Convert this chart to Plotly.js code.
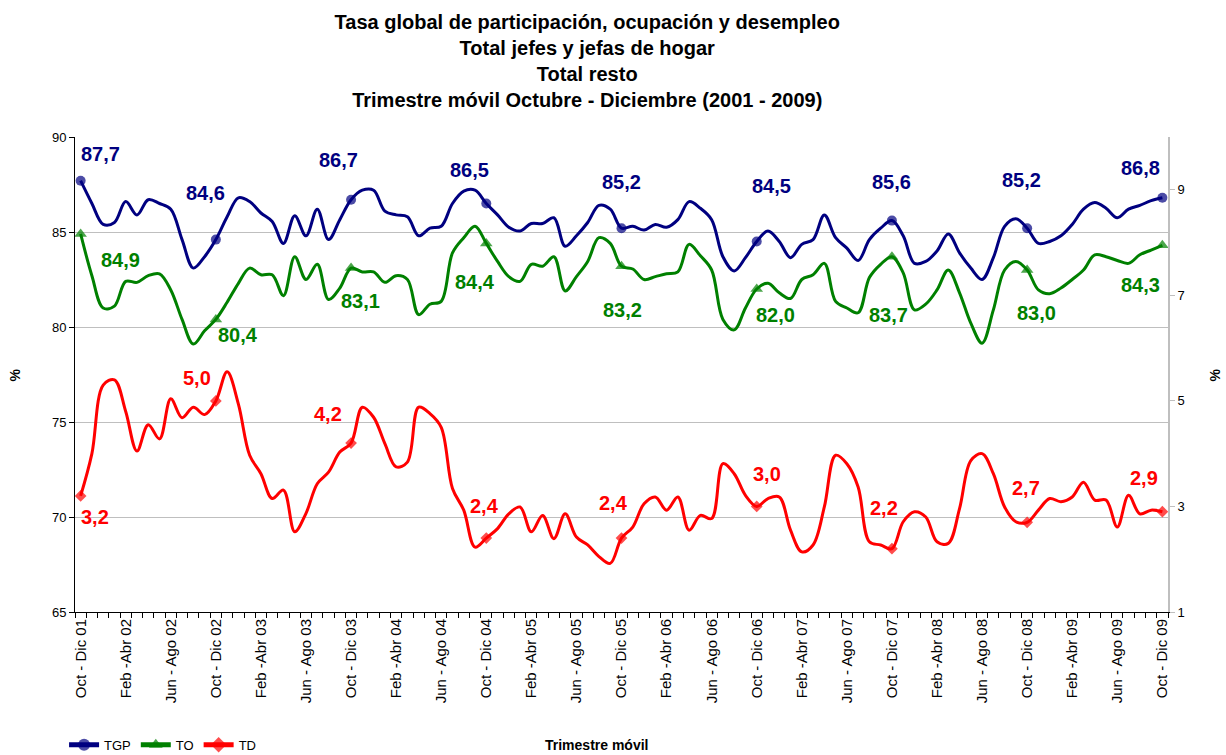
<!DOCTYPE html>
<html>
<head>
<meta charset="utf-8">
<script src="https://cdn.plot.ly/plotly-3.0.1.min.js"></script>
<style>
  html, body { margin: 0; padding: 0; background: #ffffff; }
  #chart { width: 1226px; height: 755px; }
</style>
</head>
<body>
<div id="chart"></div>
<script>
// ---------------- DATA ----------------
const categories = [
  "Oct - Dic 01","Nov - Ene 02","Dic - Feb 02","Ene - Mar 02","Feb -Abr 02","Mar - May 02","Abr - Jun 02","May - Jul 02","Jun - Ago 02","Jul - Sep 02","Ago - Oct 02","Sep - Nov 02",
  "Oct - Dic 02","Nov - Ene 03","Dic - Feb 03","Ene - Mar 03","Feb -Abr 03","Mar - May 03","Abr - Jun 03","May - Jul 03","Jun - Ago 03","Jul - Sep 03","Ago - Oct 03","Sep - Nov 03",
  "Oct - Dic 03","Nov - Ene 04","Dic - Feb 04","Ene - Mar 04","Feb -Abr 04","Mar - May 04","Abr - Jun 04","May - Jul 04","Jun - Ago 04","Jul - Sep 04","Ago - Oct 04","Sep - Nov 04",
  "Oct - Dic 04","Nov - Ene 05","Dic - Feb 05","Ene - Mar 05","Feb -Abr 05","Mar - May 05","Abr - Jun 05","May - Jul 05","Jun - Ago 05","Jul - Sep 05","Ago - Oct 05","Sep - Nov 05",
  "Oct - Dic 05","Nov - Ene 06","Dic - Feb 06","Ene - Mar 06","Feb -Abr 06","Mar - May 06","Abr - Jun 06","May - Jul 06","Jun - Ago 06","Jul - Sep 06","Ago - Oct 06","Sep - Nov 06",
  "Oct - Dic 06","Nov - Ene 07","Dic - Feb 07","Ene - Mar 07","Feb -Abr 07","Mar - May 07","Abr - Jun 07","May - Jul 07","Jun - Ago 07","Jul - Sep 07","Ago - Oct 07","Sep - Nov 07",
  "Oct - Dic 07","Nov - Ene 08","Dic - Feb 08","Ene - Mar 08","Feb -Abr 08","Mar - May 08","Abr - Jun 08","May - Jul 08","Jun - Ago 08","Jul - Sep 08","Ago - Oct 08","Sep - Nov 08",
  "Oct - Dic 08","Nov - Ene 09","Dic - Feb 09","Ene - Mar 09","Feb -Abr 09","Mar - May 09","Abr - Jun 09","May - Jul 09","Jun - Ago 09","Jul - Sep 09","Ago - Oct 09","Sep - Nov 09",
  "Oct - Dic 09"
];

const tickLabels = [
  "Oct - Dic 01","Feb -Abr 02","Jun - Ago 02","Oct - Dic 02","Feb -Abr 03","Jun - Ago 03","Oct - Dic 03",
  "Feb -Abr 04","Jun - Ago 04","Oct - Dic 04","Feb -Abr 05","Jun - Ago 05","Oct - Dic 05","Feb -Abr 06",
  "Jun - Ago 06","Oct - Dic 06","Feb -Abr 07","Jun - Ago 07","Oct - Dic 07","Feb -Abr 08","Jun - Ago 08",
  "Oct - Dic 08","Feb -Abr 09","Jun - Ago 09","Oct - Dic 09"
];

// Tasa global de participación (left axis)
const tgp = [
  87.7, 86.5, 85.4, 85.5, 86.6, 85.9, 86.7, 86.5, 86.2, 84.6, 83.1, 83.7,
  84.6, 85.8, 86.8, 86.6, 86.0, 85.55, 84.4, 85.85, 84.8, 86.2, 84.6, 85.65,
  86.7, 87.2, 87.2, 86.1, 85.9, 85.8, 84.8, 85.2, 85.3, 86.5, 87.15, 87.2,
  86.5, 85.9, 85.25, 85.05, 85.45, 85.45, 85.75, 84.25, 84.8, 85.5, 86.4, 86.2,
  85.2, 85.3, 85.1, 85.4, 85.25, 85.65, 86.6, 86.25, 85.65, 83.7, 82.95, 83.65,
  84.5, 85.05, 84.5, 83.65, 84.35, 84.6, 85.9, 84.7, 84.15, 83.5, 84.6, 85.2,
  85.6, 84.8, 83.35, 83.45, 84.0, 84.9, 83.9, 83.1, 82.5, 83.65, 85.3, 85.7,
  85.2, 84.4, 84.5, 84.8, 85.4, 86.2, 86.55, 86.25, 85.75, 86.2, 86.4, 86.65,
  86.8
];

// Tasa de ocupación (left axis)
const to = [
  84.9, 82.7, 81.0, 81.1, 82.4, 82.35, 82.7, 82.8, 81.95, 80.4, 79.1, 79.8,
  80.4, 81.3, 82.3, 83.1, 82.75, 82.75, 81.65, 83.7, 82.5, 83.3, 81.45, 82.05,
  83.1, 82.9, 82.9, 82.35, 82.7, 82.5, 80.65, 81.2, 81.35, 83.9, 84.7, 85.3,
  84.4, 83.45, 82.65, 82.4, 83.3, 83.2, 83.7, 81.9, 82.65, 83.45, 84.7, 84.4,
  83.2, 83.05, 82.5, 82.65, 82.8, 82.9, 84.35, 83.75, 83.0, 80.4, 79.85, 81.0,
  82.0, 82.3, 81.8, 81.5, 82.5, 82.75, 83.35, 81.35, 81.0, 80.75, 82.6, 83.3,
  83.7, 82.85, 80.9, 81.2, 81.95, 83.0, 81.8, 80.2, 79.15, 80.9, 83.0, 83.45,
  83.0, 81.95, 81.75, 82.05, 82.5, 83.0, 83.8, 83.7, 83.5, 83.35, 83.8, 84.05,
  84.3
];

// Tasa de desempleo (right axis)
const td = [
  3.2, 4.0, 5.3, 5.4, 4.8, 4.05, 4.55, 4.28, 5.04, 4.68, 4.88, 4.74,
  5.0, 5.55, 4.94, 3.97, 3.62, 3.15, 3.31, 2.52, 2.87, 3.43, 3.65, 4.03,
  4.2, 4.88, 4.69, 4.19, 3.75, 3.84, 4.88, 4.76, 4.5, 3.34, 2.93, 2.23,
  2.4, 2.58, 2.86, 2.99, 2.52, 2.83, 2.39, 2.86, 2.42, 2.27, 2.05, 1.92,
  2.4, 2.61, 3.05, 3.18, 2.93, 3.18, 2.55, 2.83, 2.77, 3.81, 3.62, 3.21,
  3.0, 3.15, 3.18, 2.55, 2.14, 2.27, 2.99, 3.97, 3.81, 3.37, 2.33, 2.27,
  2.2, 2.71, 2.9, 2.8, 2.33, 2.3, 2.96, 3.87, 4.0, 3.62, 2.99, 2.71,
  2.7, 2.93, 3.15, 3.09, 3.18, 3.46, 3.12, 3.12, 2.61, 3.21, 2.86, 2.93,
  2.9
];

// ---------------- STYLE ----------------
const FONT = "Liberation Sans, Arial, Helvetica, sans-serif";
const C_TGP = "#000080", C_TO = "#008000", C_TD = "#ff0000";

// label offsets (pixels: dx right, dy down) for the October data labels
const shiftTGP = [[20,-27],[-10,-47],[-13,-40],[-17,-34],[0,-46],[15,-56],[0,-39],[-6,-48],[-22,-30]];
const shiftTO  = [[40,26],[22,16],[9,33],[-11,39],[1,44],[19,26],[-3,58],[9,43],[-22,40]];
const shiftTD  = [[14,21],[-19,-23],[-23,-29],[-2,-32],[-8,-35],[10,-32],[-8,-41],[-1,-34],[-18,-34]];

const xIdx = categories.map((c, i) => i);
const octIdx = xIdx.filter(i => categories[i].startsWith("Oct"));
const isOct = i => categories[i].startsWith("Oct");

function trace(name, y, color, symbol, size, axis) {
  return {
    type: "scatter",
    mode: "lines+markers",
    name: name,
    x: xIdx,
    y: y,
    yaxis: axis,
    customdata: categories,
    hovertemplate: "%{customdata}: %{y}<extra>" + name + "</extra>",
    line: { color: color, width: 3, shape: "spline", smoothing: 1 },
    marker: { color: color, symbol: symbol, size: xIdx.map(i => isOct(i) ? size : 0), line: { width: 0 } },
    cliponaxis: false
  };
}

const data = [
  trace("TGP", tgp, C_TGP, "circle", 10, "y"),
  trace("TO", to, C_TO, "triangle-up", 11, "y"),
  trace("TD", td, C_TD, "diamond", 9, "y2")
];

const annotations = [];
function addLabels(series, color, shifts, yref) {
  octIdx.forEach((i, k) => {
    annotations.push({
      x: i, y: series[i], xref: "x", yref: yref,
      text: series[i].toFixed(1).replace(".", ","),
      showarrow: false,
      xanchor: "center", yanchor: "middle",
      xshift: shifts[k][0], yshift: -shifts[k][1],
      font: { family: FONT, size: 20, color: color, weight: 700 }
    });
  });
}
addLabels(tgp, C_TGP, shiftTGP, "y");
addLabels(to, C_TO, shiftTO, "y");
addLabels(td, C_TD, shiftTD, "y2");

// axis titles
annotations.push({
  xref: "paper", yref: "paper", x: 0.478, y: -0.28, xanchor: "center", yanchor: "middle",
  text: "Trimestre móvil", showarrow: false,
  font: { family: FONT, size: 14, color: "#000", weight: 700 }
});
annotations.push({
  xref: "paper", yref: "paper", x: -0.055, y: 0.5, xanchor: "center", yanchor: "middle",
  text: "%", textangle: -90, showarrow: false,
  font: { family: FONT, size: 14, color: "#000", weight: 700 }
});
annotations.push({
  xref: "paper", yref: "paper", x: 1.043, y: 0.5, xanchor: "center", yanchor: "middle",
  text: "%", textangle: -90, showarrow: false,
  font: { family: FONT, size: 14, color: "#000", weight: 700 }
});

const layout = {
  width: 1226, height: 755,
  paper_bgcolor: "#ffffff", plot_bgcolor: "#ffffff",
  margin: { l: 75, r: 58, t: 137, b: 143, pad: 0 },
  font: { family: FONT, size: 13, color: "#000" },
  title: {
    text: "Tasa global de participación, ocupación y desempleo<br>Total jefes y jefas de hogar<br>Total resto<br>Trimestre móvil Octubre - Diciembre (2001 - 2009)",
    font: { family: FONT, size: 20, color: "#000", weight: 700 },
    xref: "container", x: 0.479, xanchor: "center",
    yref: "container", y: 0.962, yanchor: "top"
  },
  showlegend: true,
  legend: {
    orientation: "h", x: -0.01, xanchor: "left",
    yref: "container", y: 0.0135, yanchor: "middle",
    font: { family: FONT, size: 13, color: "#000" },
    bgcolor: "rgba(0,0,0,0)", itemsizing: "constant", tracegroupgap: 0, itemwidth: 30
  },
  xaxis: {
    range: [-0.5, categories.length - 0.5],
    tickmode: "array",
    tickvals: tickLabels.map(t => categories.indexOf(t)),
    ticktext: tickLabels,
    tickangle: -90,
    ticks: "",
    tickfont: { family: FONT, size: 15, color: "#000" },
    showgrid: false, zeroline: false,
    showline: true, linecolor: "#000", linewidth: 1,
    minor: { tickmode: "linear", tick0: -0.5, dtick: 1, ticks: "outside", ticklen: 5, tickcolor: "#000", tickwidth: 1, showgrid: false },
    automargin: false,
    fixedrange: true
  },
  yaxis: {
    range: [65, 90], tick0: 65, dtick: 5,
    ticks: "outside", ticklen: 5, tickcolor: "#000",
    tickfont: { family: FONT, size: 13, color: "#000" },
    showgrid: true, gridcolor: "#bfbfbf", gridwidth: 1,
    zeroline: false, showline: true, linecolor: "#000", linewidth: 1,
    automargin: false,
    fixedrange: true
  },
  yaxis2: {
    overlaying: "y", side: "right",
    range: [1, 10], tickmode: "array", tickvals: [1, 3, 5, 7, 9],
    ticks: "outside", ticklen: 5, tickcolor: "#bfbfbf",
    tickfont: { family: FONT, size: 13, color: "#000" },
    showgrid: false, zeroline: false,
    showline: true, linecolor: "#bfbfbf", linewidth: 2,
    automargin: false,
    fixedrange: true
  },
  annotations: annotations,
  hovermode: "closest"
};

Plotly.newPlot("chart", data, layout, { displayModeBar: false, staticPlot: false, responsive: false });
</script>
</body>
</html>
